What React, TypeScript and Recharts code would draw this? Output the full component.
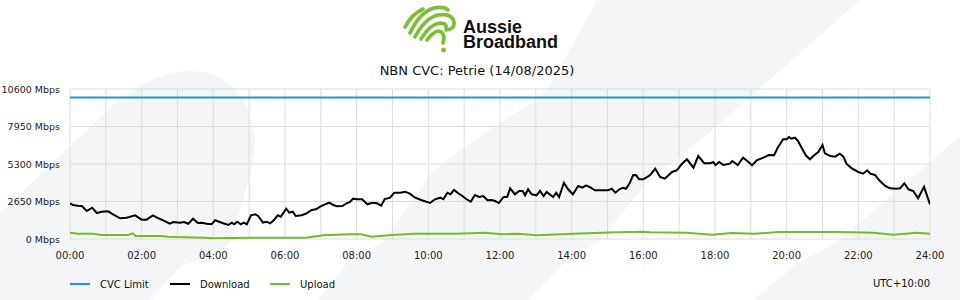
import React from 'react';
import { LineChart, Line, XAxis, YAxis, CartesianGrid } from 'recharts';

// ---------- data ----------
const cvcMinutes = [0, 1440];
const cvcMbps = [10000, 10000];

const downloadMinutes = [
  0, 5, 13, 20, 28, 37, 45, 53, 64, 72, 84, 95, 109, 120, 128, 139, 148, 156, 167, 173,
  184, 191, 198, 206, 214, 221, 229, 237, 243, 254, 265, 271, 275, 280, 286, 291, 296, 303, 310, 315,
  323, 329, 335, 340, 348, 353, 362, 367, 373, 378, 388, 396, 405, 412, 419, 427, 434, 441, 447, 456,
  463, 469, 474, 480, 489, 498, 506, 514, 521, 527, 536, 543, 553, 561, 569, 578, 589, 603, 611, 620,
  625, 632, 637, 643, 650, 657, 664, 671, 678, 685, 692, 699, 706, 712, 718, 726, 732, 737, 745, 752,
  758, 762, 767, 773, 781, 787, 793, 798, 809, 814, 819, 827, 834, 842, 851, 858, 864, 872, 879, 890,
  901, 907, 913, 920, 926, 931, 937, 943, 948, 953, 960, 971, 980, 988, 996, 1008, 1016, 1024, 1033, 1044,
  1052, 1062, 1072, 1077, 1081, 1087, 1094, 1105, 1109, 1118, 1127, 1136, 1142, 1150, 1161, 1170, 1179, 1185, 1194, 1200,
  1204, 1208, 1214, 1219, 1225, 1232, 1239, 1246, 1253, 1260, 1264, 1273, 1281, 1289, 1295, 1300, 1309, 1320, 1328, 1335,
  1340, 1348, 1355, 1365, 1373, 1384, 1390, 1397, 1404, 1412, 1420, 1430, 1440,
];
const downloadMbps = [
  2509, 2403, 2353, 2332, 1979, 2212, 1837, 1929, 1957, 1745, 1463, 1505, 1675, 1364, 1364, 1675, 1463, 1322, 1081, 1201,
  1152, 1201, 1081, 1435, 1131, 1152, 1081, 1039, 1322, 1152, 989, 1152, 1039, 1223, 1039, 1152, 1039, 1675, 1745, 1625,
  1152, 1223, 1109, 1272, 1675, 1576, 2141, 1859, 1929, 1625, 1675, 1816, 2049, 2099, 2283, 2452, 2565, 2403, 2311, 2332,
  2523, 2615, 2848, 2806, 2806, 2452, 2565, 2523, 2353, 2827, 2919, 3272, 3272, 3343, 3201, 2919, 2735, 2544, 2806, 2919,
  2806, 3272, 3159, 3463, 3230, 3039, 2806, 2636, 3109, 2968, 3039, 2735, 2756, 2685, 2544, 2968, 2968, 3583, 3159, 3392,
  3392, 3088, 3512, 3159, 3088, 3392, 3039, 3321, 2968, 3272, 2968, 3979, 3512, 3159, 3745, 3625, 3795, 3625, 3441, 3441,
  3441, 3555, 3272, 3512, 3625, 3555, 3936, 4523, 4501, 4219, 4219, 4501, 4968, 4381, 4261, 4735, 4855, 5279, 5632, 5039,
  5865, 5349, 5349, 5441, 5229, 5441, 5229, 5321, 5512, 5229, 5745, 5441, 5208, 5561, 5745, 5936, 5915, 6452, 7045, 7045,
  7208, 7088, 7158, 6925, 6452, 5915, 5632, 5915, 6148, 6643, 6056, 5865, 5816, 6028, 5816, 5321, 4996, 4735, 4615, 4855,
  4615, 4523, 4148, 3745, 3583, 3555, 3583, 3936, 3512, 3392, 2876, 3696, 2438,
];

const uploadMinutes = [
  0, 13, 38, 53, 97, 105, 110, 154, 164, 226, 243, 300, 395, 424, 469, 487, 505, 539, 578, 645,
  695, 723, 750, 781, 842, 915, 959, 971, 1032, 1075, 1108, 1147, 1186, 1214, 1289, 1345, 1378, 1418, 1440,
];
const uploadMbps = [
  445, 375, 375, 283, 283, 403, 212, 212, 163, 92, 49, 92, 92, 261, 332, 332, 163, 283, 375, 375,
  445, 332, 375, 261, 375, 473, 516, 473, 445, 304, 424, 375, 495, 495, 495, 445, 304, 445, 375,
];

const yTicks = [0, 2650, 5300, 7950, 10600];
const xTicks = Array.from({ length: 25 }, (_, i) => i * 60);

const seriesNames = ['CVC Limit', 'Download', 'Upload'];
const seriesColors = ['#1c9ad6', '#000000', '#76bc21'];

const toRows = (t: number[], v: number[]) => t.map((m, i) => ({ t: m, v: v[i] }));
const cvcData = toRows(cvcMinutes, cvcMbps);
const downloadData = toRows(downloadMinutes, downloadMbps);
const uploadData = toRows(uploadMinutes, uploadMbps);
const seriesData = [cvcData, downloadData, uploadData];

const fmtTime = (m: number) => {
  if (m % 120 !== 0) return '';
  const h = Math.floor(m / 60);
  return `${String(h).padStart(2, '0')}:00`;
};

const FONT = '"DejaVu Sans", Verdana, sans-serif';
const BG = '#f4f5f7';

const YTick = (props: any) => {
  const { x, y, payload } = props;
  return (
    <text x={x} y={y} dy={3.5} textAnchor="end" fontSize={9.5} fill="#222" fontFamily={FONT}>
      {`${payload.value} Mbps`}
    </text>
  );
};

const XTick = (props: any) => {
  const { x, y, payload } = props;
  const label = fmtTime(payload.value);
  if (!label) return <g />;
  return (
    <text x={x} y={y} dy={12} textAnchor="middle" fontSize={10} fill="#222" fontFamily={FONT}>
      {label}
    </text>
  );
};

export default function App() {
  return (
    <div
      style={{
        position: 'fixed',
        left: 0,
        top: 0,
        width: 960,
        height: 300,
        background: '#ffffff',
        overflow: 'hidden',
        fontFamily: FONT,
      }}
    >
      <svg width={960} height={300} style={{ position: 'absolute', left: 0, top: 0 }}>
        <path
          d="M0,213 L110,108 C160,62 225,55 248,110 C258,135 255,155 250,175 L232,238 C222,256 200,258 181,266 L150,300 L0,300 Z"
          fill={BG}
        />
        <path
          d="M597,0 L577,37 L547,90 C510,120 460,145 430,175 L385,240 L346,265 L318,300 L528,300 L562,265 L600,240 L645,185 L715,128 L860,0 Z"
          fill={BG}
        />
        <path d="M1000,100 L960,136 L840,240 L795,265 L753,300 L960,300 Z" fill={BG} />
        {/* logo */}
        <g fill="none" stroke="#76c12e" strokeWidth={3.6} strokeLinecap="round">
          <path d="M405,27 Q412,14 423,9" />
          <path d="M410,33 Q420,12 434,8 Q444,6 448,10" />
          <path d="M415,37 Q425,18 438,15 Q452,13 454,22 Q455,29 446,30" />
          <path d="M421,39 Q430,24 440,23 Q447,23 446,28" />
          <path d="M427,40 Q433,32 438,31 Q443,31 444,37 L443,43" />
        </g>
        <circle cx={443.5} cy={50} r={2.4} fill="#76c12e" />
        <text fontFamily='"Liberation Sans", Arial, sans-serif' fontWeight={700} fontSize={18} fill="#111">
          <tspan x={463} y={33}>Aussie</tspan>
          <tspan x={463} y={48}>Broadband</tspan>
        </text>
        <text x={477} y={75} textAnchor="middle" fontFamily={FONT} fontSize={13} fill="#111">
          NBN CVC: Petrie (14/08/2025)
        </text>
      </svg>

      <div style={{ position: 'absolute', left: 0, top: 0 }}>
        <LineChart width={960} height={300} margin={{ top: 89, right: 30, bottom: 31, left: 0 }}>
          <CartesianGrid stroke="#dcdcdc" strokeWidth={1} />
          <XAxis
            type="number"
            dataKey="t"
            domain={[0, 1440]}
            ticks={xTicks}
            interval={0}
            axisLine={false}
            tickLine={false}
            tickSize={0}
            tickMargin={8}
            height={30}
            tick={<XTick />}
            allowDataOverflow
          />
          <YAxis
            type="number"
            domain={[0, 10600]}
            ticks={yTicks}
            interval={0}
            axisLine={false}
            tickLine={false}
            tickSize={0}
            tickMargin={10}
            width={70}
            tick={<YTick />}
            allowDataOverflow
          />
          {seriesNames.map((name, i) => (
            <Line
              key={name}
              data={seriesData[i]}
              dataKey="v"
              name={name}
              type="linear"
              stroke={seriesColors[i]}
              strokeWidth={2}
              dot={false}
              activeDot={false}
              isAnimationActive={false}
            />
          ))}
        </LineChart>
      </div>

      <div
        style={{
          position: 'absolute',
          left: 70,
          top: 277,
          height: 14,
          display: 'flex',
          alignItems: 'center',
          fontSize: 10,
          color: '#111',
        }}
      >
        {seriesNames.map((name, i) => (
          <div key={name} style={{ width: 100, display: 'flex', alignItems: 'center' }}>
            <span style={{ display: 'inline-block', width: 20, height: 2, background: seriesColors[i], marginRight: 10 }} />
            <span>{name}</span>
          </div>
        ))}
      </div>
      <div style={{ position: 'absolute', right: 30, top: 277, height: 14, lineHeight: '14px', fontSize: 10, color: '#111' }}>
        UTC+10:00
      </div>
    </div>
  );
}
